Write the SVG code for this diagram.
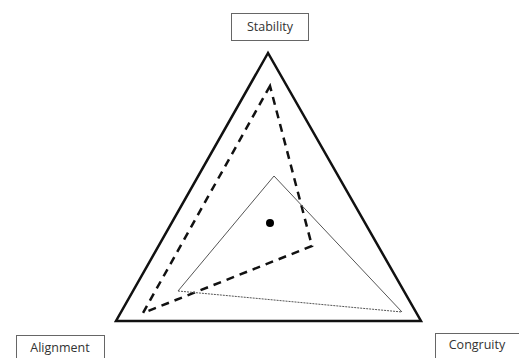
<svg xmlns="http://www.w3.org/2000/svg" width="519" height="358" viewBox="0 0 519 358">
<style>
.box{fill:#fff;stroke:#666;stroke-width:1}
.lbl{font-family:"Open Sans","Liberation Sans",Arial,sans-serif;font-size:12.5px;fill:#333;text-anchor:middle}
.outer{fill:none;stroke:#111;stroke-width:2.5;stroke-linejoin:miter}
.dash{fill:none;stroke:#111;stroke-width:2.5;stroke-dasharray:8 6}
.thin{fill:none;stroke:#555;stroke-width:1}
.dot{fill:none;stroke:#555;stroke-width:1;stroke-dasharray:2 1}
</style>
<rect width="519" height="358" fill="#fff"/>
<g id="triangle-outer"><polygon class="outer" points="268,53 116,321 421,321"/></g>
<g id="triangle-dashed"><polygon class="dash" points="270,86 143,313 312,246"/></g>
<g id="triangle-thin">
<polyline class="thin" points="178,291 274,176 402,312"/>
<line class="dot" x1="178" y1="291" x2="402" y2="312"/>
</g>
<g id="centroid"><circle cx="270" cy="223" r="4" fill="#000"/></g>
<g id="node-stability"><rect class="box" x="231.5" y="13.5" width="77" height="27"/><text class="lbl" x="270" y="31">Stability</text></g>
<g id="node-alignment"><rect class="box" x="16.5" y="335.5" width="88" height="27"/><text class="lbl" x="60" y="352">Alignment</text></g>
<g id="node-congruity"><rect class="box" x="435.5" y="333.5" width="86" height="27"/><text class="lbl" x="477" y="349">Congruity</text></g>
</svg>
